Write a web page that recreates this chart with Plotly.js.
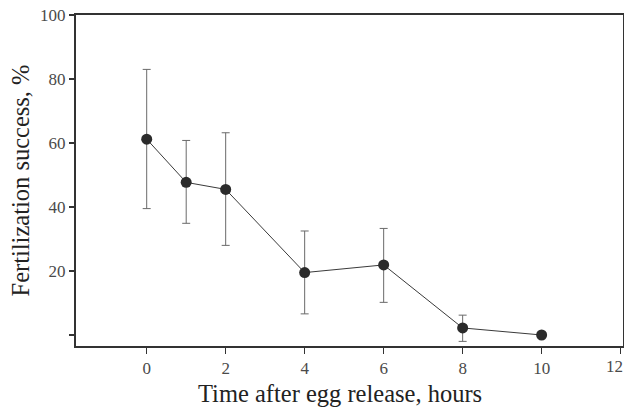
<!DOCTYPE html>
<html>
<head>
<meta charset="utf-8">
<script src="https://cdn.plot.ly/plotly-3.0.1.min.js"></script>
<style>html,body{margin:0;padding:0;background:#fff;}#chart{width:624px;height:407px;}</style>
</head>
<body>
<div id="chart"></div>
<script>
const hours = [0, 1, 2, 4, 6, 8, 10];
const success = [61.2, 47.7, 45.5, 19.5, 21.9, 2.2, 0];
const errUpper = [21.8, 13.1, 17.7, 13.0, 11.4, 4.0, 0];
const errLower = [21.7, 12.8, 17.5, 12.9, 11.7, 4.2, 0];
const xTickVals = [0, 2, 4, 6, 8, 10, 12];
const xTickText = ['0', '2', '4', '6', '8', '10', '12'];
const yTickVals = [0, 20, 40, 60, 80, 100];
const yTickText = ['', '20', '40', '60', '80', '100'];
const xTitle = 'Time after egg release, hours';
const yTitle = 'Fertilization success, %';

const trace = {
  x: hours, y: success, type: 'scatter', mode: 'lines+markers',
  line: {color: '#3a3a3a', width: 1},
  marker: {color: '#2b2b2b', size: 11},
  error_y: {type: 'data', symmetric: false, array: errUpper, arrayminus: errLower,
            color: '#6a6a6a', thickness: 1, width: 4},
  showlegend: false, hoverinfo: 'skip'
};

const fontFam = '"Liberation Serif", "Times New Roman", serif';
const tickFont = {size: 17, color: '#4a4a4a', family: fontFam};
const lastIdx = xTickVals.length - 1;
// last tick label sits at the right edge; draw it nudged inward so it is not clipped
const shownXText = xTickText.map((t, i) => i === lastIdx ? '' : t);

const layout = {
  width: 624, height: 407,
  margin: {l: 76, r: 1, t: 15, b: 61},
  paper_bgcolor: '#fff', plot_bgcolor: '#fff',
  font: {family: fontFam, color: '#333'},
  xaxis: {
    range: [-1.79, 12.06], tickvals: xTickVals, ticktext: shownXText, ticks: 'outside', ticklen: 6, tickwidth: 1.5,
    tickcolor: '#333', showline: true, linecolor: '#333', linewidth: 2, mirror: true,
    showgrid: false, zeroline: false, tickfont: tickFont
  },
  yaxis: {
    range: [-3.44, 100], tickvals: yTickVals, ticktext: yTickText, ticks: 'outside', ticklen: 5, tickwidth: 1.5,
    tickcolor: '#333', showline: true, linecolor: '#333', linewidth: 2, mirror: true,
    showgrid: false, zeroline: false, tickfont: tickFont,
    title: {text: yTitle, font: {size: 24.5, color: '#222', family: fontFam}, standoff: 4}
  },
  annotations: [{
    text: xTitle, xref: 'paper', yref: 'paper', x: 0.4826, y: -0.142,
    xanchor: 'center', yanchor: 'middle', showarrow: false,
    font: {size: 24.5, color: '#222', family: fontFam}
  }, {
    text: xTickText[lastIdx], xref: 'x', yref: 'paper', x: xTickVals[lastIdx], y: -0.0634,
    xanchor: 'center', yanchor: 'middle', xshift: -6, showarrow: false, font: tickFont
  }]
};
Plotly.newPlot('chart', [trace], layout, {staticPlot: true, displayModeBar: false});
</script>
</body>
</html>
